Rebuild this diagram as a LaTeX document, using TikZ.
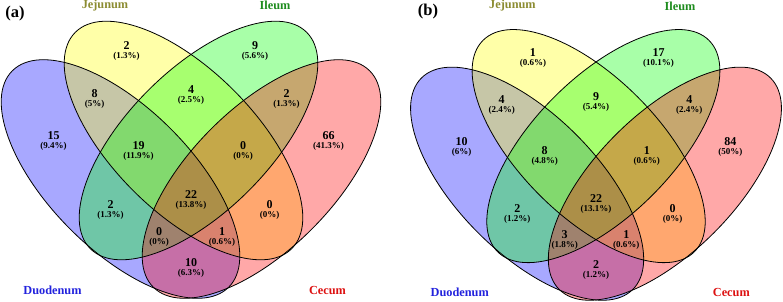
\documentclass[tikz,border=0pt]{standalone}
\usepackage{fontspec}
\setmainfont{Liberation Serif}
\usetikzlibrary{positioning}
\definecolor{duoblue}{HTML}{0000FF}
\definecolor{jejyellow}{HTML}{FFFF00}
\definecolor{ilegreen}{HTML}{00FF00}
\definecolor{cecred}{HTML}{FF0000}
\definecolor{duotext}{HTML}{2222DD}
\definecolor{jejtext}{HTML}{8C8C32}
\definecolor{iletext}{HTML}{1E8C1E}
\definecolor{cectext}{HTML}{DD1111}
\newcommand{\pctfont}{\fontsize{9}{9}\selectfont}

\begin{document}
\begin{tikzpicture}[
  x=1pt, y=1pt,
  setfill/.style={fill=#1, fill opacity=0.34},
  setline/.style={draw=black, line width=0.8pt},
  setname/.style={font=\bfseries\fontsize{12.3}{14}\selectfont, text=#1, inner sep=0pt},
  cnt/.style={align=center, inner sep=0pt, font=\bfseries\fontsize{12}{9}\selectfont},
  panel/.style={font=\bfseries\fontsize{16.5}{18}\selectfont, inner sep=0pt}
]
\useasboundingbox (0,0) rectangle (783,301);

% (a)
\begin{scope}[shift={(191,122)}]
  \foreach \cx/\cy/\ang/\col in {-70.5/0/-45/duoblue, -7.5/38.5/-45/jejyellow,
      7.5/38.5/45/ilegreen, 70.5/0/45/cecred}
    \fill[setfill=\col, rotate around={\ang:(\cx,\cy)}] (\cx,\cy) ellipse [x radius=153, y radius=71];
  \foreach \cx/\cy/\ang in {-70.5/0/-45, -7.5/38.5/-45, 7.5/38.5/45, 70.5/0/45}
    \draw[setline, rotate around={\ang:(\cx,\cy)}] (\cx,\cy) ellipse [x radius=153, y radius=71];
  \node[setname=jejtext] (a-jej) at (-86,173.5) {Jejunum};
  \node[setname=iletext] (a-ile) at (84,173.5) {Ileum};
  \node[setname=duotext] (a-duo) at (-138.5,-111) {Duodenum};
  \node[setname=cectext] (a-cec) at (136.5,-111) {Cecum};
  \foreach \px/\py/\num/\pct [count=\i] in {
      -137.5/38/15/9.4, -64.5/128.5/2/1.3, 64/128.5/9/5.6, 137.5/38/66/41.3,
      -96.5/80.5/8/5, 0/83.5/4/2.5, 95.5/80.5/2/1.3,
      -52.5/28/19/11.9, 52/28/0/0,
      -80.5/-31/2/1.3, 0/-20.5/22/13.8, 78.5/-31/0/0,
      -32/-58/0/0, 31/-58/1/0.6, 0/-88.5/10/6.3}
    \node[cnt] (a-n\i) at (\px,\py) {\num\\{\pctfont(\pct\%)}};
\end{scope}
\node[panel] (pa) at (15,287.5) {(a)};

% (b)
\begin{scope}[shift={(596,117.3)}, scale=0.977]
  \foreach \cx/\cy/\ang/\col in {-70.5/0/-45/duoblue, -7.5/38.5/-45/jejyellow,
      7.5/38.5/45/ilegreen, 70.5/0/45/cecred}
    \fill[setfill=\col, rotate around={\ang:(\cx,\cy)}] (\cx,\cy) ellipse [x radius=153, y radius=71];
  \foreach \cx/\cy/\ang in {-70.5/0/-45, -7.5/38.5/-45, 7.5/38.5/45, 70.5/0/45}
    \draw[setline, rotate around={\ang:(\cx,\cy)}] (\cx,\cy) ellipse [x radius=153, y radius=71];
  \node[setname=jejtext] (b-jej) at (-85.5,182) {Jejunum};
  \node[setname=iletext] (b-ile) at (86,182) {Ileum};
  \node[setname=duotext] (b-duo) at (-139.5,-111.6) {Duodenum};
  \node[setname=cectext] (b-cec) at (138.5,-111.6) {Cecum};
  \foreach \px/\py/\num/\pct [count=\i] in {
      -137.5/38/10/6, -64.5/128.5/1/0.6, 64/128.5/17/10.1, 137.5/38/84/50,
      -96.5/80.5/4/2.4, 0/83.5/9/5.4, 95.5/80.5/4/2.4,
      -52.5/28/8/4.8, 52/28/1/0.6,
      -80.5/-31/2/1.2, 0/-20.5/22/13.1, 78.5/-31/0/0,
      -32/-58/3/1.8, 31/-58/1/0.6, 0/-88.5/2/1.2}
    \node[cnt] (b-n\i) at (\px,\py) {\num\\{\pctfont(\pct\%)}};
\end{scope}
\node[panel] (pb) at (428,289.5) {(b)};
\end{tikzpicture}
\end{document}
